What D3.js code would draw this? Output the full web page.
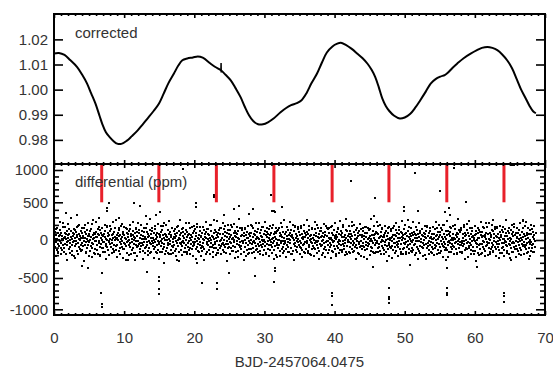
<!DOCTYPE html>
<html>
<head>
<meta charset="utf-8">
<script src="https://cdn.jsdelivr.net/npm/d3@7"></script>
<style>
  body { margin: 0; background: #fff; }
  svg { display: block; }
  text { font-family: "Liberation Sans", Arial, sans-serif; font-size: 15px; fill: #333; }
</style>
</head>
<body>
<div id="chart"></div>
<script>
// corrected light curve (days, relative flux)
const curveDays = [0.0, 0.7, 1.5, 2.3, 3.3, 4.0, 4.7, 5.3, 5.9, 6.5, 6.9, 7.4, 7.9, 8.5, 9.0, 9.6, 10.4, 11.1, 11.9, 12.6,
  13.3, 14.2, 14.95, 15.6, 16.3, 17.1, 17.7, 18.3, 19.0, 19.8, 20.5, 21.2, 22.3, 23.0, 23.8, 24.5, 25.2, 25.9, 26.6, 27.2,
  27.8, 28.4, 29.1, 29.8, 30.5, 31.3, 32.3, 33.1, 33.8, 34.6, 35.3, 36.0, 36.7, 37.5, 38.2, 38.9, 39.7, 40.3, 40.9, 41.6,
  42.4, 43.3, 44.0, 44.7, 45.3, 45.8, 46.3, 46.8, 47.3, 47.8, 48.5, 49.3, 50.0, 50.8, 51.5, 52.2, 53.0, 53.7, 54.4, 55.1,
  55.7, 56.1, 56.8, 57.5, 58.4, 59.4, 60.3, 61.0, 61.8, 62.5, 63.2, 63.9, 64.6, 65.3, 66.0, 66.6, 67.2, 67.8, 68.3, 68.7];
const curveFlux = [1.0144, 1.0146, 1.0138, 1.0118, 1.0090, 1.0060, 1.0025, 0.9985, 0.9945, 0.9895, 0.9862, 0.9830, 0.9812, 0.9795, 0.9785, 0.9784, 0.9797, 0.9815, 0.9837, 0.9860,
  0.9884, 0.9915, 0.9944, 0.9982, 1.0025, 1.0064, 1.0095, 1.0117, 1.0124, 1.0128, 1.0132, 1.0127, 1.0104, 1.0090, 1.0077, 1.0058, 1.0037, 1.0005, 0.9970, 0.9932,
  0.9898, 0.9875, 0.9862, 0.9862, 0.9870, 0.9885, 0.9910, 0.9927, 0.9938, 0.9946, 0.9958, 0.9986, 1.0025, 1.0064, 1.0108, 1.0148, 1.0172, 1.0182, 1.0187, 1.0178,
  1.0163, 1.0142, 1.0125, 1.0103, 1.0078, 1.0050, 1.0010, 0.9965, 0.9935, 0.9915, 0.9896, 0.9885, 0.9889, 0.9904, 0.9928, 0.9957, 0.9992, 1.0024, 1.0042, 1.0052,
  1.0058, 1.0066, 1.0086, 1.0104, 1.0125, 1.0143, 1.0157, 1.0166, 1.0170, 1.0166, 1.0157, 1.0140, 1.0117, 1.0085, 1.0040, 1.0000, 0.9968, 0.9935, 0.9914, 0.9906];
// short glitch in the corrected curve
const spikeDays = [23.80, 23.82, 23.84, 23.86];
const spikeFlux = [1.0079, 1.0106, 1.0068, 1.0077];

// differential photometry (ppm), one row per day, 20 samples per day
const diffStep = 0.05;
const diffRows = [
  [35,-62,110,8,-95,140,-28,71,-130,18,92,-47,-160,55,3,-84,126,-15,66,-108],
  [-40,88,12,-135,57,-5,170,-72,24,-101,43,95,-58,10,-180,77,-22,118,-66,31],
  [62,-18,-112,84,150,-44,6,-90,37,122,-140,15,-63,99,-27,52,-205,80,-9,133],
  [-77,25,104,-52,-8,68,-148,40,190,-33,-96,14,73,-121,58,-2,115,-70,29,-45],
  [91,-130,20,47,-85,162,-11,-60,33,106,-155,76,-24,8,-99,137,48,-68,-13,84],
  [-26,59,-142,121,3,-79,45,-36,208,-104,17,63,-51,96,-170,28,-7,82,-118,41],
  [112,-9,-66,38,-127,74,152,-43,-15,60,-90,131,-200,22,89,-57,5,-110,66,-32],
  [48,-101,86,-20,-161,34,117,-74,11,-48,178,-6,-87,53,99,-135,-28,70,-14,125],
  [-55,17,140,-92,64,-38,2,-118,81,29,-66,103,-150,44,-4,157,-83,19,-129,72],
  [26,-71,-3,97,-145,50,128,-31,-102,65,12,-59,185,-88,36,-12,109,-124,80,-42],
  [-114,61,30,-47,155,-81,8,93,-29,-165,42,76,-19,120,-60,4,-98,143,-37,55],
  [79,-23,-138,10,68,-106,124,-50,37,-3,-172,88,21,-64,147,-16,-91,52,106,-76],
  [-8,132,-57,90,-121,25,-41,70,198,-84,14,-33,115,-147,58,-69,7,101,-26,-111],
  [45,-88,16,161,-65,-21,104,-139,34,77,-7,-100,58,-45,136,-173,23,83,-52,-18],
  [117,-41,-73,29,-118,89,5,-26,152,-94,60,-162,18,-70,97,41,-126,-11,74,-58],
  [-30,72,-153,46,110,-12,-85,135,-39,9,-120,63,188,-56,24,-97,82,-4,-141,51],
  [67,-109,38,-1,-66,126,-35,84,-178,19,101,-47,-9,72,-133,46,158,-83,13,-24],
  [-93,36,119,-61,20,-147,75,-17,49,-112,167,-40,88,-5,-79,113,-154,31,62,-36],
  [14,-57,95,-128,142,-22,-74,53,-8,105,-163,27,-46,83,-99,6,131,-68,-190,40],
  [103,-34,-90,61,-12,-137,80,28,-105,156,-51,-3,69,-124,39,94,-20,-81,121,-44],
  [-63,148,-27,11,-119,54,87,-93,-14,171,-58,32,-144,67,8,-71,114,-31,50,-102],
  [37,-76,-151,99,-38,16,-89,130,-6,-115,73,45,-180,24,106,-49,-23,140,-67,9],
  [82,-17,64,-131,27,195,-86,-41,118,-3,-96,58,-156,36,-62,91,15,-108,139,-29],
  [-48,111,-99,22,-170,65,-8,93,-134,41,127,-60,-19,84,-111,2,164,-77,31,-53],
  [20,-125,73,-35,150,-68,-2,109,-87,55,-47,-166,97,-13,38,-103,126,-56,18,79],
  [-86,43,135,-20,-110,62,-39,7,178,-74,26,-145,89,-31,-4,117,-92,52,-160,34],
  [98,-52,-18,76,-141,30,113,-65,12,-98,159,-27,-82,47,-123,71,-10,136,-40,-8],
  [-21,87,-163,54,-6,-97,142,-44,68,-129,21,105,-61,-187,33,80,-15,-116,92,-37],
  [58,-6,96,-120,182,-53,-25,39,-104,74,-11,-157,120,-35,63,-83,17,-136,44,108],
  [-119,26,-49,145,-75,10,89,-30,-149,57,131,-66,4,-95,35,-18,167,-59,78,-132],
  [4,125,-84,-28,63,-176,40,102,-52,-10,85,-114,29,148,-70,-1,-138,66,-25,93],
  [-60,19,158,-98,33,-45,-130,76,-7,112,-80,46,-203,15,90,-38,121,-64,6,-107],
  [130,-71,-2,55,-150,93,-33,-16,68,-122,39,174,-86,-19,107,-55,23,-146,81,-9],
  [-37,103,-117,14,48,-63,137,-91,-24,70,-159,12,95,-42,-6,128,-101,59,-181,42],
  [72,-140,31,-57,115,-3,-77,169,-46,22,-126,84,-14,52,-96,141,-29,7,-68,100],
  [-15,60,-95,186,-39,-108,25,78,-134,46,9,-72,123,-50,-163,36,97,-21,66,-118],
  [108,-46,-11,-144,83,27,-62,134,-87,-5,57,-179,16,71,-28,-112,154,-40,29,-81],
  [-99,6,71,-35,140,-124,49,-18,92,-61,196,-32,-104,38,-8,80,-150,24,116,-54],
  [42,-83,124,-14,-67,58,-171,95,3,-118,35,-43,110,-93,67,-22,-137,161,-9,48],
  [-7,147,-60,-125,30,89,-45,12,-95,175,-70,21,-4,-142,99,60,-31,-85,128,-16],
  [53,-112,21,66,-190,17,108,-78,39,-26,-103,144,-49,6,86,-128,-12,71,-64,113],
  [-127,34,99,-51,-9,166,-84,45,-117,70,3,-41,131,-160,27,-73,118,-24,52,-6],
  [86,-28,-154,41,113,-92,12,-37,78,-119,57,188,-65,-16,101,-43,-140,63,9,-88],
  [11,-66,132,-106,25,-14,91,-172,47,-55,119,-30,72,-98,-8,150,-76,34,-122,64],
  [-74,120,-39,18,-98,52,-135,87,175,-62,-20,40,-113,96,-46,13,-83,133,-57,28],
  [140,-19,56,-143,9,-86,70,-12,-104,125,-37,62,-167,31,85,-70,-1,106,-38,-154],
  [-33,95,-8,73,-111,186,-58,20,-89,34,-146,109,-25,57,-74,4,143,-101,41,-17],
  [66,-129,45,-22,87,-60,-164,118,-3,-83,53,15,-120,92,-41,177,-68,28,-5,-95],
  [-104,23,116,-76,38,-10,-131,64,154,-44,8,-90,71,-34,127,-151,50,-20,99,-63],
  [27,-48,-92,137,-16,79,-118,31,-57,102,-183,46,-6,88,-124,22,62,-40,-106,149],
  [-52,81,16,-161,94,-29,50,-98,123,-7,-72,36,173,-115,10,-49,84,-143,59,-13],
  [97,-107,-32,60,-5,-138,109,-62,25,81,-47,-176,68,-19,136,-86,32,-9,-119,74],
  [-16,44,-147,92,-73,122,-25,11,-94,61,152,-40,-110,48,-3,99,-67,-192,37,85],
  [118,-59,30,-100,171,-36,-84,57,-13,-125,93,20,-61,114,-152,40,-27,75,-91,8],
  [-41,13,-118,79,26,-68,141,-109,49,-2,-83,160,-34,67,-131,18,105,-54,-173,43],
  [62,-87,103,-14,-145,35,-50,128,-75,14,198,-95,-22,81,-58,-133,46,10,-104,117],
  [-132,68,-21,117,-60,-14,85,-163,52,-39,107,-1,-90,159,-47,29,-116,74,-6,-77],
  [24,-98,150,-45,8,-122,61,-31,96,-184,40,76,-56,-11,134,-99,18,-68,109,-30],
  [-69,129,-36,-9,-157,73,29,-80,176,-52,-15,93,-134,51,6,-103,65,-42,138,-120],
  [91,-24,-106,55,-77,164,-43,17,-126,82,-64,38,-19,115,-150,58,-87,26,-5,69],
  [-8,-140,77,-33,121,-88,4,-55,98,-165,31,139,-72,20,-47,102,-118,66,-190,44],
  [111,-58,-13,-95,47,-27,156,-114,36,60,-141,9,-79,94,-24,178,-63,-38,81,-101],
  [-45,19,-162,88,-4,-123,67,42,-86,127,-35,-71,113,-148,23,-16,73,-97,152,-28],
  [56,-115,34,-51,168,-8,-93,85,-130,22,-58,104,-3,-176,70,39,-110,131,-44,15],
  [-90,103,-40,13,-127,59,-19,144,-66,-32,90,-149,48,-80,121,7,-56,-189,95,-14],
  [33,-69,127,-107,8,-44,80,-158,112,-25,54,-91,170,-35,-121,62,-10,96,-77,29],
  [-112,46,-27,90,-146,16,-62,134,-8,-99,71,27,-133,105,-50,-5,158,-84,38,-60],
  [74,-30,-96,52,185,-71,11,-118,62,-43,99,-155,20,84,-26,-102,126,-59,-1,-139],
  [-23,81,-65,140,-102,37,-48,110,-160,15,68,-87,-9,95]
];
// the looser halo round the band, 5 samples per day, offset from the rows above
const haloStart = 0.025, haloStep = 0.2;
const haloRows = [
  [185,-210,160,-175,240], [-190,230,-155,170,-260], [215,-165,290,-200,150], [-240,175,-185,205,-150],
  [160,-280,195,-170,225], [-205,150,-230,260,-180], [245,-190,170,-215,155], [-160,205,-250,180,-195],
  [190,-175,235,-160,270], [-220,160,-185,210,-240], [175,-265,150,-200,195], [-185,240,-170,155,-210],
  [230,-155,195,-245,165], [-170,215,-200,280,-160], [155,-235,180,-175,210], [-250,190,-160,225,-185],
  [200,-170,255,-190,160], [-175,150,-215,190,-270], [265,-200,165,-160,230], [-160,225,-185,170,-205],
  [180,-245,210,-155,175], [-215,170,-265,235,-160], [150,-190,200,-225,260], [-200,255,-175,160,-180],
  [225,-160,185,-270,195], [-185,200,-150,215,-235], [170,-225,275,-180,155], [-265,160,-205,190,-170],
  [195,-175,165,-240,220], [-155,230,-190,175,-200], [240,-185,155,-210,180], [-175,195,-250,160,-225],
  [160,-210,225,-170,265], [-230,175,-160,245,-190], [205,-260,190,-155,170], [-190,155,-220,200,-175],
  [270,-165,180,-200,150], [-210,240,-175,165,-255], [155,-195,215,-230,185], [-170,165,-240,190,-160],
  [225,-215,160,-175,250], [-160,200,-195,275,-185], [185,-170,245,-160,200], [-245,160,-180,215,-205],
  [165,-230,170,-250,155], [-195,275,-160,185,-170], [240,-155,205,-190,165], [-180,190,-270,160,-215],
  [150,-240,185,-165,230], [-215,170,-155,250,-190], [195,-185,265,-175,160], [-160,235,-200,170,-245],
  [220,-170,150,-215,185], [-250,185,-190,160,-165], [170,-200,240,-180,205], [-175,160,-225,195,-260],
  [255,-230,175,-160,190], [-190,205,-170,280,-155], [160,-165,200,-245,215], [-225,250,-185,165,-180],
  [190,-270,160,-195,235], [-165,175,-210,225,-200], [230,-180,195,-155,170], [-205,160,-240,185,-175],
  [175,-215,270,-170,160], [-240,195,-160,210,-230], [165,-190,225,-200,250], [-180,240,-175,160,-215],
  [200,-160,185]
];
// isolated points (days, ppm)
const outlierDays = [1.74, 3.3, 4.0, 4.8, 6.4, 6.87, 6.77, 6.8, 6.8, 7.6, 7.6, 7.8, 9.25, 10.6, 11.4, 11.6, 12.33, 13.05, 13.3, 14.5,
  15.1, 14.95, 14.95, 14.95, 15.0, 15.66, 17.6, 18.4, 20.3, 20.3, 20.4, 21.1, 22.8, 22.75, 23.17, 23.17, 24.2, 24.9, 25.6, 26.35,
  27.8, 28.3, 28.6, 31.0, 31.1, 31.4, 31.45, 31.44, 31.44, 31.34, 32.5, 39.67, 39.67, 39.67, 42.3, 45.74, 45.5, 45.6, 47.74, 47.74,
  47.74, 47.8, 49.9, 49.9, 51.45, 51.9, 50.7, 55.1, 55.8, 56.3, 56.4, 56.07, 56.0, 56.0, 56.0, 57.0, 58.7, 60.25, 62.6, 64.14,
  64.14, 64.2, 65.3, 65.6, 66.8, 65.2, 67.7];
const outlierPpm = [362, 332, -342, -372, 296, -430, -735, -920, -958, 388, 420, 487, 288, -263, 487, -263, 455, 318, -425, 332,
  367, -483, -543, -676, -756, -307, -263, 1015, 491, 440, -307, -575, 613, 587, -585, -681, 332, -438, 408, 455,
  341, 408, -474, 613, 388, 388, 375, -372, -408, -559, 442, -735, -788, -931, 830, 562, -359, 318, -665, -799,
  -840, -904, 438, 381, 949, 381, -329, 676, 375, 420, 332, -372, -665, -735, -772, 1026, 500, -351, 265, -735,
  -788, -879, 1077, 1077, 265, -263, -252];

// transit markers (days)
const transitDays = [6.8, 14.95, 23.15, 31.35, 39.65, 47.75, 56.0, 64.15];

const xTicks = [0, 10, 20, 30, 40, 50, 60, 70];
const topTicks = [0.98, 0.99, 1.00, 1.01, 1.02];
const botTicks = [-1000, -500, 0, 500, 1000];
const botMinor = [-900, -800, -700, -600, -400, -300, -200, -100, 100, 200, 300, 400, 600, 700, 800, 900];

const width = 553, height = 370;
const left = 54, right = 545, top1 = 14, mid = 164, bot2 = 315;

const svg = d3.select('#chart').append('svg')
  .attr('width', width)
  .attr('height', height);

const x = d3.scaleLinear().domain([0, 70]).range([left, right]);
const yTop = d3.scaleLinear().domain([0.9704, 1.0301]).range([mid, top1]);
// the lower panel's axis is slightly compressed towards its ends in the original
const yBot = d3.scaleLinear()
  .domain([-1090, -1000, -500, 0, 500, 1000, 1090])
  .range([bot2, 309.3, 278, 240, 202.3, 170, mid]);

// differential points
const diffPts = [];
diffRows.forEach((row, day) => row.forEach((v, j) => diffPts.push([day + j * diffStep, v])));
haloRows.forEach((row, day) => row.forEach((v, j) => diffPts.push([day + haloStart + j * haloStep, v])));
outlierDays.forEach((t, i) => diffPts.push([t, outlierPpm[i]]));

svg.append('g')
  .selectAll('rect')
  .data(diffPts)
  .enter()
  .append('rect')
  .attr('x', d => Math.round(x(d[0])) - 1)
  .attr('y', d => Math.round(yBot(d[1])) - 1)
  .attr('width', 2)
  .attr('height', 2)
  .attr('fill', '#000')
  .attr('shape-rendering', 'crispEdges');

// transit markers
svg.append('g')
  .selectAll('line')
  .data(transitDays)
  .enter()
  .append('line')
  .attr('x1', d => x(d))
  .attr('x2', d => x(d))
  .attr('y1', mid)
  .attr('y2', yBot(500))
  .attr('stroke', '#e8202a')
  .attr('stroke-width', 3);

// corrected curve
const line = d3.line()
  .x(d => x(d[0]))
  .y(d => yTop(d[1]))
  .curve(d3.curveCatmullRom);

svg.append('path')
  .datum(curveDays.map((t, i) => [t, curveFlux[i]]))
  .attr('d', line)
  .attr('fill', 'none')
  .attr('stroke', '#000')
  .attr('stroke-width', 2);

svg.append('path')
  .datum(spikeDays.map((t, i) => [t, spikeFlux[i]]))
  .attr('d', d3.line().x(d => x(d[0])).y(d => yTop(d[1])))
  .attr('fill', 'none')
  .attr('stroke', '#000')
  .attr('stroke-width', 1.5);

// axes, ticks point inward
const minorX = d3.range(0, 71).filter(d => d % 10 !== 0);

function addAxis(gen, tx, ty, values, size, fmt, pad) {
  const g = svg.append('g')
    .attr('transform', `translate(${tx},${ty})`)
    .attr('color', '#000')
    .call(gen.tickValues(values).tickSize(size).tickSizeOuter(0)
      .tickFormat(fmt || '').tickPadding(pad || 0));
  g.select('.domain').remove();
  g.selectAll('.tick line').attr('stroke-width', 1.6);
  return g;
}

[[d3.axisTop, top1], [d3.axisBottom, mid], [d3.axisTop, mid], [d3.axisBottom, bot2]].forEach(([gen, yy], i) => {
  addAxis(gen(x), 0, yy, minorX, -2);
  addAxis(gen(x), 0, yy, xTicks, -4, i === 3 ? (d => String(d)) : null, 17);
});

addAxis(d3.axisLeft(yTop), left, 0, topTicks, -9, d3.format('.2f'), 6);
addAxis(d3.axisRight(yTop), right, 0, topTicks, -9);
addAxis(d3.axisLeft(yBot), left, 0, botMinor, -5);
addAxis(d3.axisRight(yBot), right, 0, botMinor, -5);
addAxis(d3.axisLeft(yBot), left, 0, botTicks, -9, d => String(d), 6);
addAxis(d3.axisRight(yBot), right, 0, botTicks, -9);

// panel frames
svg.append('rect')
  .attr('x', left).attr('y', top1)
  .attr('width', right - left).attr('height', mid - top1)
  .attr('fill', 'none').attr('stroke', '#000').attr('stroke-width', 2);
svg.append('rect')
  .attr('x', left).attr('y', mid)
  .attr('width', right - left).attr('height', bot2 - mid)
  .attr('fill', 'none').attr('stroke', '#000').attr('stroke-width', 2);

// panel labels and axis title
svg.append('text').attr('x', 75).attr('y', 33).attr('dy', '0.35em').text('corrected');
svg.append('text').attr('x', 75).attr('y', 182).attr('dy', '0.35em').text('differential (ppm)');
svg.append('text')
  .attr('x', (left + right) / 2)
  .attr('y', 362)
  .attr('dy', '0.35em')
  .attr('text-anchor', 'middle')
  .text('BJD-2457064.0475');
</script>
</body>
</html>
